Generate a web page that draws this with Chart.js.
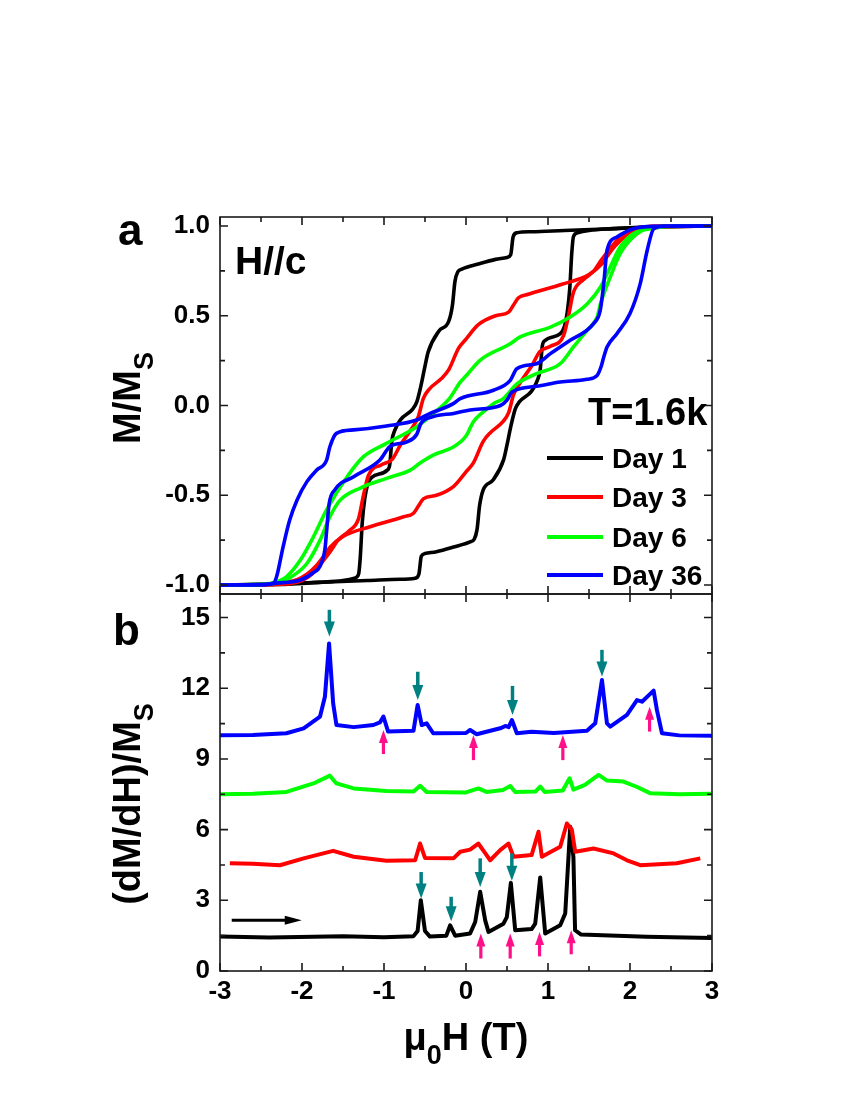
<!DOCTYPE html>
<html>
<head>
<meta charset="utf-8">
<script src="https://cdn.jsdelivr.net/npm/chart.js@4.4.1/dist/chart.umd.min.js"></script>
<style>
  html, body { margin: 0; padding: 0; background: #fff; }
</style>
</head>
<body>
<canvas id="loops" width="850" height="1100"></canvas>
<script>
// axes
var fieldTicks = [-3, -2, -1, 0, 1, 2, 3];
var loopTicks = [-1.0, -0.5, 0.0, 0.5, 1.0];
var derivTicks = [0, 3, 6, 9, 12, 15];

var dayNames = ['Day 1', 'Day 3', 'Day 6', 'Day 36'];
var dayColors = ['#000000', '#ff0000', '#00ff00', '#0000ff'];

// panel a: M/Ms vs field, [H, M]; "Up" = field sweeping up, "Down" = sweeping down
var day1Up = [[-3, -1.0], [-2.4, -0.995], [-1.8, -0.985], [-1.2, -0.975], [-0.8, -0.968], [-0.62, -0.962],
  [-0.575, -0.94], [-0.545, -0.84], [-0.5, -0.825], [-0.36, -0.814], [-0.15, -0.788], [0.05, -0.76],
  [0.1, -0.745], [0.135, -0.69], [0.165, -0.56], [0.21, -0.47], [0.33, -0.415], [0.46, -0.3], [0.5, -0.22],
  [0.54, -0.13], [0.6, -0.02], [0.65, 0.02], [0.8, 0.08], [0.87, 0.14], [0.905, 0.2], [0.93, 0.33],
  [0.96, 0.36], [1.15, 0.40], [1.2, 0.44], [1.235, 0.52], [1.265, 0.65], [1.29, 0.85], [1.31, 0.94],
  [1.36, 0.962], [1.5, 0.975], [1.8, 0.985], [2.3, 0.997], [3, 1.0]];
var day1Down = [[-3, -1.0], [-2.3, -0.997], [-1.8, -0.985], [-1.5, -0.975], [-1.36, -0.962], [-1.31, -0.94],
  [-1.29, -0.85], [-1.265, -0.65], [-1.235, -0.52], [-1.2, -0.44], [-1.15, -0.40], [-0.96, -0.36],
  [-0.93, -0.33], [-0.905, -0.2], [-0.87, -0.14], [-0.8, -0.08], [-0.65, -0.02], [-0.6, 0.02], [-0.54, 0.13],
  [-0.5, 0.22], [-0.46, 0.3], [-0.33, 0.415], [-0.21, 0.47], [-0.165, 0.56], [-0.135, 0.69], [-0.1, 0.745],
  [-0.05, 0.76], [0.15, 0.788], [0.36, 0.814], [0.5, 0.825], [0.545, 0.84], [0.575, 0.94], [0.62, 0.962],
  [0.8, 0.968], [1.2, 0.975], [1.8, 0.985], [2.4, 0.995], [3, 1.0]];

var day3Up = [[-3, -1.0], [-2.4, -0.995], [-2.2, -0.985], [-2.06, -0.97], [-1.94, -0.94], [-1.82, -0.89],
  [-1.72, -0.83], [-1.66, -0.79], [-1.5, -0.73], [-1.17, -0.675], [-0.76, -0.62], [-0.64, -0.60],
  [-0.58, -0.56], [-0.52, -0.52], [-0.36, -0.50], [-0.15, -0.45], [0.0, -0.37], [0.09, -0.32], [0.21, -0.20],
  [0.3, -0.15], [0.45, -0.09], [0.52, -0.04], [0.58, 0.06], [0.65, 0.12], [0.8, 0.22], [0.9, 0.30],
  [1.03, 0.33], [1.19, 0.39], [1.25, 0.50], [1.31, 0.63], [1.43, 0.70], [1.56, 0.75], [1.65, 0.81],
  [1.75, 0.87], [1.88, 0.94], [2.0, 0.975], [2.15, 0.993], [2.4, 1.0], [3, 1.0]];
var day3Down = [[-3, -1.0], [-2.4, -0.998], [-2.15, -0.993], [-2.0, -0.975], [-1.88, -0.94], [-1.75, -0.87],
  [-1.65, -0.81], [-1.56, -0.75], [-1.43, -0.70], [-1.31, -0.63], [-1.25, -0.50], [-1.19, -0.39],
  [-1.03, -0.33], [-0.9, -0.30], [-0.8, -0.22], [-0.65, -0.12], [-0.58, -0.06], [-0.52, 0.04], [-0.45, 0.09],
  [-0.3, 0.15], [-0.21, 0.20], [-0.09, 0.32], [0.0, 0.37], [0.15, 0.45], [0.36, 0.50], [0.52, 0.52],
  [0.58, 0.56], [0.64, 0.60], [0.76, 0.62], [1.17, 0.675], [1.5, 0.73], [1.66, 0.79], [1.72, 0.83],
  [1.82, 0.89], [1.94, 0.94], [2.06, 0.97], [2.2, 0.985], [2.4, 0.995], [3, 1.0]];

var day6Up = [[-3, -1.0], [-2.6, -0.998], [-2.32, -0.99], [-2.15, -0.96], [-1.94, -0.88], [-1.78, -0.75],
  [-1.66, -0.62], [-1.54, -0.53], [-1.29, -0.46], [-0.97, -0.406], [-0.68, -0.36], [-0.56, -0.32],
  [-0.4, -0.276], [-0.15, -0.23], [0.0, -0.17], [0.09, -0.09], [0.2, -0.04], [0.335, 0.01], [0.46, 0.04],
  [0.62, 0.12], [0.86, 0.177], [1.15, 0.233], [1.31, 0.326], [1.475, 0.419], [1.6, 0.493], [1.64, 0.567],
  [1.76, 0.716], [1.88, 0.846], [2.04, 0.939], [2.2, 0.985], [2.5, 1.0], [3, 1.0]];
var day6Down = [[-3, -1.0], [-2.6, -0.998], [-2.35, -0.987], [-2.19, -0.954], [-2.02, -0.861], [-1.86, -0.731],
  [-1.70, -0.582], [-1.45, -0.397], [-1.25, -0.285], [-0.97, -0.211], [-0.6, -0.118], [-0.36, -0.03],
  [-0.2, 0.04], [-0.07, 0.13], [0.01, 0.17], [0.17, 0.252], [0.54, 0.344], [0.66, 0.382], [1.03, 0.437],
  [1.27, 0.493], [1.48, 0.567], [1.64, 0.66], [1.76, 0.772], [1.88, 0.883], [2.04, 0.957], [2.25, 0.985],
  [2.5, 0.997], [3, 1.0]];

var day36Up = [[-3, -1.0], [-2.5, -0.998], [-2.32, -0.99], [-2.02, -0.972], [-1.86, -0.93], [-1.78, -0.895],
  [-1.72, -0.80], [-1.70, -0.70], [-1.67, -0.55], [-1.6, -0.47], [-1.37, -0.397], [-1.05, -0.304],
  [-0.93, -0.23], [-0.72, -0.202], [-0.6, -0.16], [-0.55, -0.1], [-0.4, -0.062], [-0.15, -0.044],
  [0.05, -0.025], [0.42, 0.0], [0.5, 0.03], [0.56, 0.075], [0.86, 0.107], [1.15, 0.131], [1.475, 0.146],
  [1.6, 0.168], [1.65, 0.22], [1.68, 0.27], [1.72, 0.326], [1.84, 0.40], [2.0, 0.512], [2.125, 0.679],
  [2.21, 0.865], [2.29, 0.985], [2.45, 1.0], [3, 1.0]];
var day36Down = [[-3, -1.0], [-2.5, -0.998], [-2.35, -0.99], [-2.31, -0.954], [-2.23, -0.786], [-2.15, -0.638],
  [-2.06, -0.526], [-1.94, -0.424], [-1.82, -0.359], [-1.70, -0.304], [-1.66, -0.23], [-1.58, -0.155],
  [-1.37, -0.136], [-0.97, -0.114], [-0.6, -0.081], [-0.48, -0.053], [-0.15, 0.012], [-0.07, 0.038],
  [0.335, 0.085], [0.54, 0.14], [0.62, 0.205], [0.86, 0.233], [1.03, 0.289], [1.27, 0.363], [1.555, 0.456],
  [1.637, 0.53], [1.68, 0.679], [1.72, 0.865], [1.84, 0.939], [2.04, 0.985], [2.3, 0.998], [3, 1.0]];

// panel b: (dM/dH)/Ms, curves offset vertically, [H, value]
var day1Deriv = [[-3, 1.46], [-2.4, 1.42], [-1.5, 1.47], [-1.0, 1.43], [-0.64, 1.48], [-0.59, 1.7], [-0.551, 3.0], [-0.5, 1.7],
  [-0.44, 1.46], [-0.24, 1.5], [-0.193, 1.94], [-0.132, 1.5], [0.05, 1.59], [0.112, 2.08], [0.173, 3.36],
  [0.234, 2.15], [0.274, 1.66], [0.457, 2.01], [0.498, 2.29], [0.547, 3.74], [0.6, 1.73], [0.8, 1.78],
  [0.844, 2.01], [0.905, 3.97], [0.966, 1.59], [1.149, 1.94], [1.21, 2.44], [1.271, 6.12], [1.31, 4.84],
  [1.33, 1.73], [1.4, 1.55], [2.2, 1.45], [3, 1.4]];
var day3Deriv = [[-2.88, 4.57], [-2.6, 4.55], [-2.27, 4.49], [-1.98, 4.78], [-1.62, 5.1], [-1.37, 4.85],
  [-0.97, 4.68], [-0.62, 4.7], [-0.56, 5.41], [-0.5, 4.8], [-0.15, 4.79], [-0.07, 5.06], [0.05, 5.15],
  [0.15, 5.41], [0.234, 5.0], [0.295, 4.7], [0.417, 5.13], [0.518, 5.41], [0.579, 4.85], [0.8, 4.92],
  [0.884, 5.91], [0.925, 4.85], [1.149, 5.27], [1.23, 6.26], [1.29, 6.0], [1.332, 5.06], [1.555, 5.2],
  [1.8, 4.99], [1.963, 4.7], [2.125, 4.49], [2.57, 4.57], [2.857, 4.78]];
var day6Deriv = [[-3, 7.5], [-2.6, 7.52], [-2.19, 7.6], [-1.86, 7.96], [-1.66, 8.29], [-1.58, 7.96],
  [-1.37, 7.75], [-0.97, 7.64], [-0.64, 7.62], [-0.56, 7.86], [-0.48, 7.6], [0.0, 7.58], [0.15, 7.75],
  [0.25, 7.6], [0.45, 7.68], [0.54, 7.85], [0.6, 7.6], [0.85, 7.62], [0.905, 7.83], [0.96, 7.6],
  [1.18, 7.66], [1.263, 8.18], [1.31, 7.7], [1.45, 7.9], [1.617, 8.32], [1.72, 8.08], [1.92, 8.04],
  [2.08, 7.82], [2.25, 7.54], [2.6, 7.5], [3, 7.52]];
var day36Deriv = [[-3, 10.0], [-2.6, 10.02], [-2.19, 10.09], [-1.98, 10.3], [-1.78, 10.8], [-1.72, 11.65],
  [-1.67, 13.9], [-1.62, 11.36], [-1.58, 10.44], [-1.37, 10.35], [-1.13, 10.44], [-1.05, 10.55],
  [-1.007, 10.8], [-0.95, 10.16], [-0.64, 10.2], [-0.59, 11.29], [-0.54, 10.44], [-0.48, 10.51],
  [-0.4, 10.09], [0.0, 10.1], [0.05, 10.23], [0.13, 10.05], [0.417, 10.3], [0.48, 10.4], [0.52, 10.35],
  [0.56, 10.65], [0.62, 10.09], [0.8, 10.15], [1.07, 10.1], [1.475, 10.2], [1.576, 10.51], [1.658, 12.35],
  [1.719, 10.51], [1.759, 10.37], [1.963, 10.87], [2.085, 11.5], [2.146, 11.43], [2.288, 11.9],
  [2.328, 11.08], [2.39, 10.09], [2.6, 10.0], [3, 9.98]];

// arrows in panel b: [H, tip, tail]
var downArrows = [[-1.666, 14.2, 15.33], [-0.588, 11.5, 12.7], [0.567, 10.87, 12.1], [1.658, 12.5, 13.63],
  [-0.547, 3.08, 4.2], [-0.181, 2.11, 3.15], [0.173, 3.57, 4.78], [0.559, 3.83, 4.99]];
var upArrows = [[-1.007, 10.23, 9.21], [0.091, 10.02, 8.95], [1.181, 10.02, 8.95], [2.239, 11.22, 10.16],
  [0.181, 1.59, 0.53], [0.539, 1.59, 0.53], [0.897, 1.66, 0.62], [1.283, 1.73, 0.71]];
var sweepArrow = [-2.857, -2.003, 2.15];

var FONT = "'Liberation Sans', Arial, sans-serif";

function pts(arr) {
  return arr.map(function (p) { return { x: p[0], y: p[1] }; });
}

function loopSet(arr, color) {
  return { data: pts(arr), yAxisID: 'yA', borderColor: color, borderWidth: 3.6,
    pointRadius: 0, fill: false, cubicInterpolationMode: 'monotone' };
}

function derivSet(arr, color) {
  return { data: pts(arr), yAxisID: 'yB', borderColor: color, borderWidth: 4,
    pointRadius: 0, fill: false, tension: 0, borderJoinStyle: 'round' };
}

function drawArrow(ctx, x0, y0, x1, y1, color, headLen, headW, shaftW) {
  var dx = x1 - x0, dy = y1 - y0;
  var len = Math.sqrt(dx * dx + dy * dy);
  var ux = dx / len, uy = dy / len;
  var bx = x1 - ux * headLen, by = y1 - uy * headLen;
  ctx.save();
  ctx.strokeStyle = color;
  ctx.fillStyle = color;
  ctx.lineWidth = shaftW;
  ctx.beginPath();
  ctx.moveTo(x0, y0);
  ctx.lineTo(bx + ux, by + uy);
  ctx.stroke();
  ctx.beginPath();
  ctx.moveTo(x1, y1);
  ctx.lineTo(bx - uy * headW / 2, by + ux * headW / 2);
  ctx.lineTo(bx + uy * headW / 2, by - ux * headW / 2);
  ctx.closePath();
  ctx.fill();
  ctx.restore();
}

// text made of pieces: [text, size, shift down]
function richText(ctx, parts, x, y, center) {
  var total = 0;
  parts.forEach(function (p) {
    ctx.font = 'bold ' + p[1] + 'px ' + FONT;
    total += ctx.measureText(p[0]).width;
  });
  var cx = center ? x - total / 2 : x;
  parts.forEach(function (p) {
    ctx.font = 'bold ' + p[1] + 'px ' + FONT;
    ctx.fillText(p[0], cx, y + p[2]);
    cx += ctx.measureText(p[0]).width;
  });
}

var decorations = {
  id: 'decorations',
  afterDatasetsDraw: function (chart) {
    var ctx = chart.ctx;
    var area = chart.chartArea;
    var x = chart.scales.x, yA = chart.scales.yA, yB = chart.scales.yB;

    ctx.save();
    ctx.strokeStyle = '#1a1a1a';
    ctx.lineWidth = 1.6;

    // frames and inward ticks for both panels
    [[yA, loopTicks], [yB, derivTicks]].forEach(function (pair) {
      var ys = pair[0], yt = pair[1];
      ctx.strokeRect(area.left, ys.top, area.right - area.left, ys.bottom - ys.top);
      ctx.beginPath();
      for (var i = 0; i < fieldTicks.length; i++) {
        var px = x.getPixelForValue(fieldTicks[i]);
        ctx.moveTo(px, ys.bottom); ctx.lineTo(px, ys.bottom - 8);
        ctx.moveTo(px, ys.top); ctx.lineTo(px, ys.top + 8);
        if (i < fieldTicks.length - 1) {
          var mx = x.getPixelForValue((fieldTicks[i] + fieldTicks[i + 1]) / 2);
          ctx.moveTo(mx, ys.bottom); ctx.lineTo(mx, ys.bottom - 5);
          ctx.moveTo(mx, ys.top); ctx.lineTo(mx, ys.top + 5);
        }
      }
      for (var j = 0; j < yt.length; j++) {
        var py = ys.getPixelForValue(yt[j]);
        ctx.moveTo(area.left, py); ctx.lineTo(area.left + 8, py);
        ctx.moveTo(area.right, py); ctx.lineTo(area.right - 8, py);
        if (j < yt.length - 1) {
          var my = ys.getPixelForValue((yt[j] + yt[j + 1]) / 2);
          ctx.moveTo(area.left, my); ctx.lineTo(area.left + 5, my);
          ctx.moveTo(area.right, my); ctx.lineTo(area.right - 5, my);
        }
      }
      ctx.stroke();
    });
    ctx.restore();

    // peak arrows
    downArrows.forEach(function (a) {
      var px = x.getPixelForValue(a[0]);
      drawArrow(ctx, px, yB.getPixelForValue(a[2]), px, yB.getPixelForValue(a[1]), '#008080', 15, 11, 3.5);
    });
    upArrows.forEach(function (a) {
      var px = x.getPixelForValue(a[0]);
      drawArrow(ctx, px, yB.getPixelForValue(a[2]), px, yB.getPixelForValue(a[1]), '#ff1088', 13, 9, 3.2);
    });
    var sy = yB.getPixelForValue(sweepArrow[2]);
    drawArrow(ctx, x.getPixelForValue(sweepArrow[0]), sy, x.getPixelForValue(sweepArrow[1]), sy, '#000000', 17, 9, 3);

    ctx.save();
    ctx.fillStyle = '#000';
    ctx.textBaseline = 'alphabetic';
    ctx.textAlign = 'left';

    // panel letters and notes
    richText(ctx, [['a', 44, 0]], 118, 245, false);
    richText(ctx, [['b', 44, 0]], 113, 645, false);
    richText(ctx, [['H//c', 39, 0]], 235, 274, false);
    richText(ctx, [['T=1.6k', 38, 0]], 588, 425, false);

    // legend
    var legendY = [458, 497, 537, 575];
    for (var k = 0; k < dayNames.length; k++) {
      ctx.strokeStyle = dayColors[k];
      ctx.lineWidth = 4;
      ctx.beginPath();
      ctx.moveTo(547, legendY[k]);
      ctx.lineTo(603, legendY[k]);
      ctx.stroke();
      richText(ctx, [[dayNames[k], 28, 0]], 612, legendY[k] + 10, false);
    }

    // axis titles
    richText(ctx, [['\u03bc', 38, 0], ['0', 27, 14], ['H (T)', 38, 0]], 466, 1050, true);
    ctx.save();
    ctx.translate(140, 398);
    ctx.rotate(-Math.PI / 2);
    richText(ctx, [['M/M', 38, 0], ['S', 27, 13]], 0, 0, true);
    ctx.restore();
    ctx.save();
    ctx.translate(140, 804);
    ctx.rotate(-Math.PI / 2);
    richText(ctx, [['(dM/dH)/M', 38, 0], ['S', 27, 13]], 0, 0, true);
    ctx.restore();
    ctx.restore();
  }
};

var tickFont = { family: FONT, size: 26, weight: 'bold' };

var chart = new Chart(document.getElementById('loops').getContext('2d'), {
  type: 'line',
  data: {
    datasets: [
      loopSet(day36Down, dayColors[3]), loopSet(day36Up, dayColors[3]),
      loopSet(day6Down, dayColors[2]), loopSet(day6Up, dayColors[2]),
      loopSet(day3Down, dayColors[1]), loopSet(day3Up, dayColors[1]),
      loopSet(day1Down, dayColors[0]), loopSet(day1Up, dayColors[0]),
      derivSet(day36Deriv, dayColors[3]), derivSet(day6Deriv, dayColors[2]),
      derivSet(day3Deriv, dayColors[1]), derivSet(day1Deriv, dayColors[0])
    ]
  },
  options: {
    responsive: false,
    animation: false,
    layout: { padding: { left: 0, right: 138, top: 217, bottom: 0 } },
    scales: {
      x: {
        type: 'linear', axis: 'x', position: 'bottom', min: -3, max: 3,
        afterBuildTicks: function (s) { s.ticks = fieldTicks.map(function (v) { return { value: v }; }); },
        afterFit: function (s) { s.height = 129; },
        grid: { display: false, drawTicks: false },
        border: { display: false },
        ticks: { color: '#000', font: tickFont, padding: 5, maxRotation: 0, autoSkip: false,
          callback: function (v) { return String(v); } }
      },
      yB: {
        type: 'linear', axis: 'y', position: 'left', stack: 'panels', stackWeight: 1,
        min: 0, max: 16,
        afterBuildTicks: function (s) { s.ticks = derivTicks.map(function (v) { return { value: v }; }); },
        afterFit: function (s) { s.width = 220; },
        grid: { display: false, drawTicks: false },
        border: { display: false },
        ticks: { color: '#000', font: tickFont, padding: 10, autoSkip: false,
          callback: function (v) { return String(v); } }
      },
      yA: {
        type: 'linear', axis: 'y', position: 'left', stack: 'panels', stackWeight: 1,
        min: -1.05, max: 1.05,
        afterBuildTicks: function (s) { s.ticks = loopTicks.map(function (v) { return { value: v }; }); },
        afterFit: function (s) { s.width = 220; },
        grid: { display: false, drawTicks: false },
        border: { display: false },
        ticks: { color: '#000', font: tickFont, padding: 10, autoSkip: false,
          callback: function (v) { return v.toFixed(1); } }
      }
    },
    plugins: {
      legend: { display: false },
      tooltip: { enabled: false }
    }
  },
  plugins: [decorations]
});
</script>
</body>
</html>
